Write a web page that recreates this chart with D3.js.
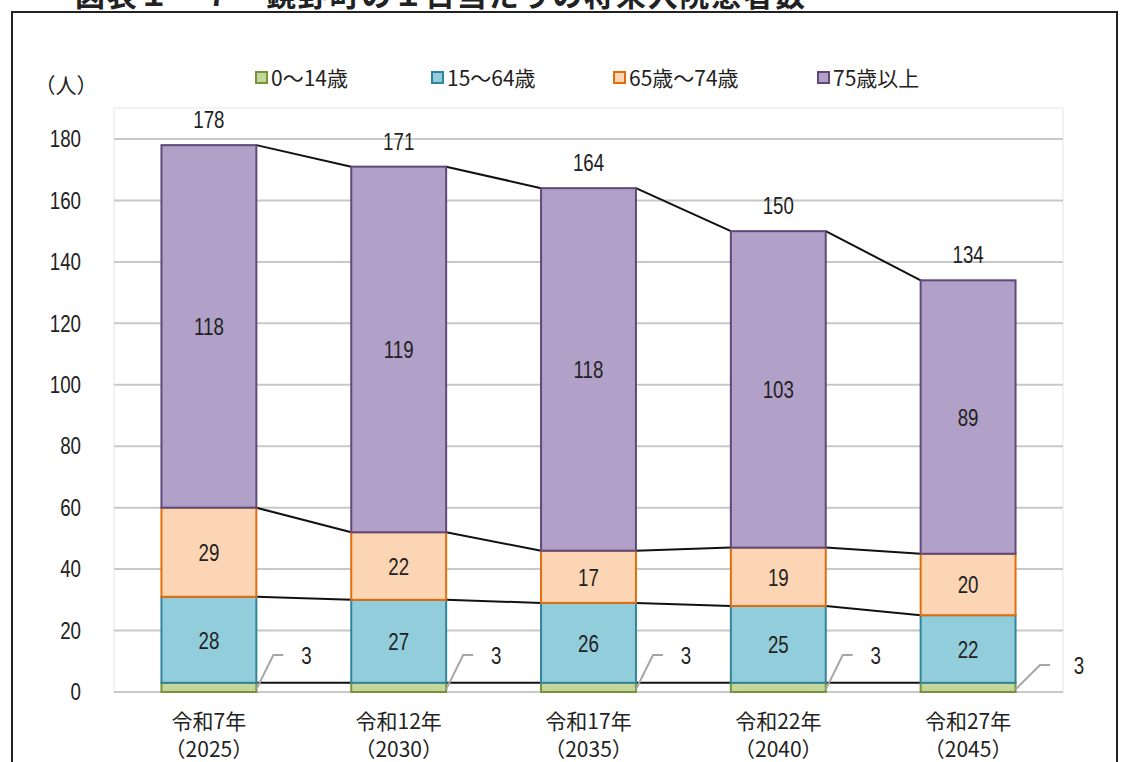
<!DOCTYPE html>
<html><head><meta charset="utf-8">
<script src="https://cdn.jsdelivr.net/npm/d3@7"></script>
<style>body{margin:0;background:#fff}svg{display:block}
text{font-family:"Noto Sans CJK JP",sans-serif;fill:#222}</style>
</head><body><svg id="c" width="1121" height="762"></svg>
<script>
const categories = ["令和7年|（2025）","令和12年|（2030）","令和17年|（2035）","令和22年|（2040）","令和27年|（2045）"];
const seriesNames = ["0～14歳","15～64歳","65歳～74歳","75歳以上"];
const age0_14 = [3,3,3,3,3];
const age15_64 = [28,27,26,25,22];
const age65_74 = [29,22,17,19,20];
const age75plus = [118,119,118,103,89];
const yTicks = [0,20,40,60,80,100,120,140,160,180];
const fills = ["#c4d79b","#92cddc","#fcd5b5","#b1a0c7"];
const strokes = ["#77933c","#31849b","#e46c0a","#5f497a"];

const svg = d3.select("#c");
const SX = 0.78;
// condensed number text helper
function num(g, x, y, str, anchor){
  g.append("text").attr("transform",`translate(${x},${y}) scale(${SX},1)`)
    .attr("text-anchor",anchor||"middle").attr("font-size",24)
    .style("font-family","'Liberation Sans',sans-serif").text(str);
}
// title (partially cut at top, as in the reference)
svg.append("text").attr("x",75).attr("y",6).attr("font-size",30).attr("font-weight","bold")
  .attr("textLength",730).attr("lengthAdjust","spacing")
  .text("図表１－７　鏡野町の１日当たりの将来入院患者数");
// outer frame
svg.append("rect").attr("x",12).attr("y",12).attr("width",1105).attr("height",800)
  .attr("fill","none").attr("stroke","#222").attr("stroke-width",2);

const x0=114,x1=1063,yTop=108,yBot=692;
const x = d3.scaleBand().domain(categories).range([x0,x1]).paddingInner(0.5).paddingOuter(0.25);
const y = d3.scaleLinear().domain([0,180]).range([692,139]);

// plot area box
svg.append("rect").attr("x",x0).attr("y",yTop).attr("width",x1-x0).attr("height",yBot-yTop)
  .attr("fill","none").attr("stroke","#eeeeee").attr("stroke-width",1.5);
// gridlines
svg.append("g").selectAll("line").data(yTicks).join("line")
  .attr("x1",x0).attr("x2",x1).attr("y1",d=>y(d)).attr("y2",d=>y(d))
  .attr("stroke","#c8c8c8").attr("stroke-width",2);
// y axis labels
const yAxis = svg.append("g").attr("transform","translate(81,0)")
  .call(d3.axisLeft(y).tickValues(yTicks).tickSize(0).tickPadding(0));
yAxis.select(".domain").remove();
yAxis.selectAll("text").attr("font-size",24).attr("fill","#222")
  .style("font-family","'Liberation Sans',sans-serif")
  .attr("transform",`scale(${SX},1)`).attr("x",0);
svg.append("text").attr("x",66).attr("y",93).attr("text-anchor","middle").attr("font-size",21)
  .attr("fill","#555").text("（人）");

// stack
const rows = categories.map((c,i)=>({cat:c, s0:age0_14[i], s1:age15_64[i], s2:age65_74[i], s3:age75plus[i]}));
const stack = d3.stack().keys(["s0","s1","s2","s3"])(rows);

// series lines
const lineG = svg.append("g");
stack.forEach((layer,k)=>{
  for(let i=0;i<layer.length-1;i++){
    lineG.append("line")
      .attr("x1",x(categories[i])+x.bandwidth()).attr("y1",y(layer[i][1]))
      .attr("x2",x(categories[i+1])).attr("y2",y(layer[i+1][1]))
      .attr("stroke","#111").attr("stroke-width",2);
  }
});

// bars
stack.forEach((layer,k)=>{
  svg.append("g").selectAll("rect").data(layer).join("rect")
    .attr("x",d=>x(d.data.cat)).attr("width",x.bandwidth())
    .attr("y",d=>y(d[1])).attr("height",d=>y(d[0])-y(d[1]))
    .attr("fill",fills[k]).attr("stroke",strokes[k]).attr("stroke-width",2);
});

// segment labels
const lab = svg.append("g");
stack.forEach((layer,k)=>{
  if(k===0) return;
  layer.forEach(d=>num(lab, x(d.data.cat)+x.bandwidth()/2, y((d[0]+d[1])/2)+9, d[1]-d[0]));
});
// 0-14 labels with leader lines
stack[0].forEach((d,i)=>{
  const bx = x(d.data.cat)+x.bandwidth();
  const last = i===categories.length-1;
  const ly = last?665:655;
  const lx2 = last?1050:bx+27;
  svg.append("polyline").attr("points",`${bx},${y(d[1]/2)+2} ${lx2-10},${ly} ${lx2},${ly}`)
    .attr("fill","none").attr("stroke","#a6a6a6").attr("stroke-width",2);
  num(lab, last?1079:bx+50, ly+9, d[1]-d[0]);
});
// totals
rows.forEach(d=>{
  const t = d.s0+d.s1+d.s2+d.s3;
  num(lab, x(d.cat)+x.bandwidth()/2, y(t)-17, t);
});

// x labels
const xl = svg.append("g").selectAll("g").data(categories).join("g")
  .attr("transform",d=>`translate(${x(d)+x.bandwidth()/2},0)`);
xl.append("text").attr("y",729).attr("text-anchor","middle").attr("font-size",21)
  .text(d=>d.split("|")[0]);
xl.append("text").attr("y",757).attr("text-anchor","middle").attr("font-size",21)
  .text(d=>d.split("|")[1]);

// legend
const legX = [256,432,614,818];
const lg = svg.append("g").selectAll("g").data(seriesNames).join("g")
  .attr("transform",(d,i)=>`translate(${legX[i]},78)`);
lg.append("rect").attr("x",0).attr("y",-6).attr("width",11).attr("height",11)
  .attr("fill",(d,i)=>fills[i]).attr("stroke",(d,i)=>strokes[i]).attr("stroke-width",2);
lg.append("text").attr("x",15).attr("y",8).attr("font-size",21).text(d=>d);
</script></body></html>
